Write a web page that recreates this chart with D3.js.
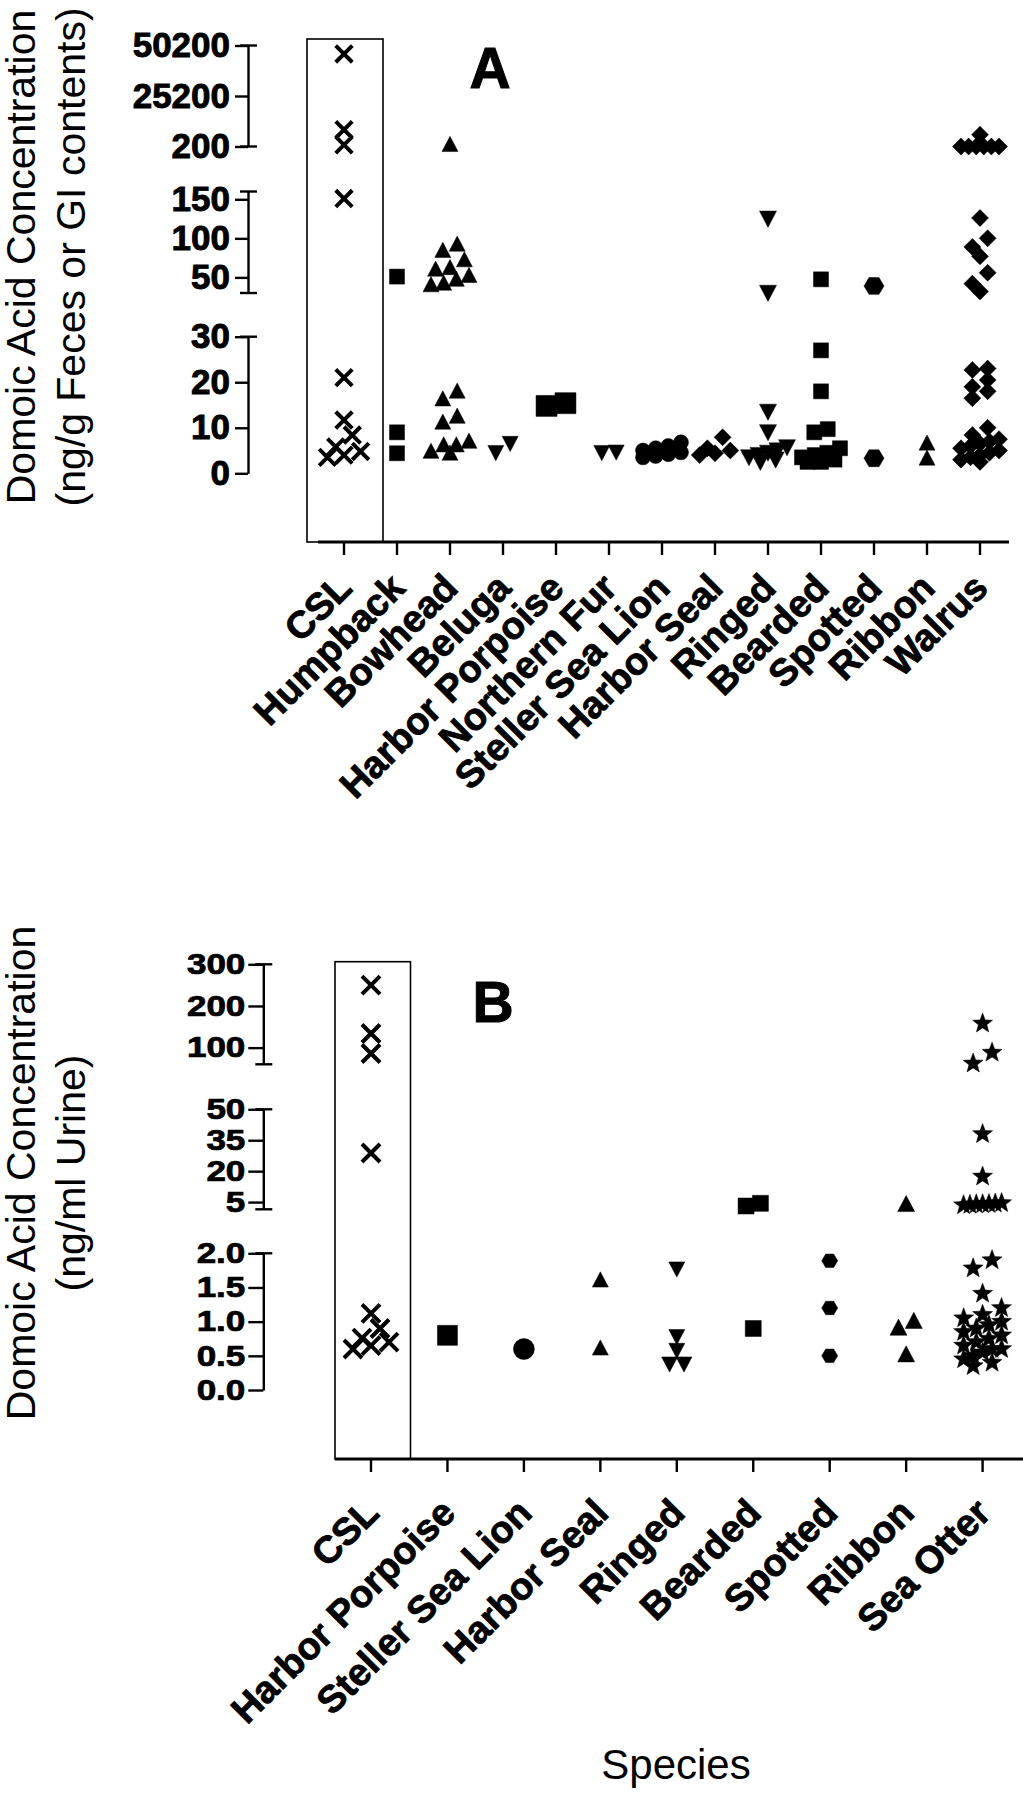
<!DOCTYPE html>
<html><head><meta charset="utf-8">
<script src="https://cdn.jsdelivr.net/npm/d3@7"></script>
<style>
body{margin:0;background:#fff;}
svg{display:block;}
text{font-family:"Liberation Sans",Arial,Helvetica,sans-serif;fill:#000;}
</style></head><body>
<svg id="chart" width="1023" height="1800"></svg>
<script>
// ---------------- DATA ----------------
const categoriesA = ["CSL","Humpback","Bowhead","Beluga","Harbor Porpoise","Northern Fur","Steller Sea Lion","Harbor Seal","Ringed","Bearded","Spotted","Ribbon","Walrus"];
const categoriesB = ["CSL","Harbor Porpoise","Steller Sea Lion","Harbor Seal","Ringed","Bearded","Spotted","Ribbon","Sea Otter"];

// Panel A: ng/g feces or GI contents
const aCSL = [46000, 8500, 1000, 151, 21, 11.7, 8.4, 5.8, 4.8, 4.0, 3.5];
const aHumpback = [51, 9, 4.4];
const aBowhead = [210, 90, 82, 70, 60, 58, 50, 45, 40, 38, 17.6, 15.9, 12.1, 10.8, 6.6, 5.8, 5.8, 4.4, 4.0];
const aBeluga = [5, 7];
const aHarborPorpoise = [14.8, 15.4];
const aNorthernFur = [5, 5.1];
const aStellerSeaLion = [6.8, 6.0, 5.5, 5.0, 4.6, 4.2, 3.8, 3.5];
const aHarborSeal = [7.9, 5.5, 5.0, 4.4, 4.0];
const aRinged = [128, 33, 14, 9.5, 6.2, 5.5, 5, 4.5, 4, 3.5, 3];
const aBearded = [47.5, 27, 18, 9.7, 9, 5.5, 4.5, 4, 3.5, 3, 2.5, 2.5];
const aSpotted = [39, 3.3];
const aRibbon = [2.9, 6.2];
const aWalrus = [6000, 200, 200, 200, 200, 200, 200, 126, 100, 89, 77, 56, 42, 32, 23, 22.7, 20.5, 19, 18, 16.5, 10, 8.4, 7.5, 7, 6.5, 6, 5.5, 5, 4.5, 4, 3.5, 3, 2.5];

// Panel B: ng/ml urine
const bCSL = [250, 134, 86, 28.8, 1.12, 0.9, 0.76, 0.7, 0.65, 0.6];
const bHarborPorpoise = [0.8];
const bStellerSeaLion = [0.6];
const bHarborSeal = [1.58, 0.585];
const bRinged = [1.8, 0.81, 0.61, 0.41, 0.41];
const bBearded = [4.4, 3.1, 0.9];
const bSpotted = [1.89, 1.2, 0.5];
const bRibbon = [3, 0.98, 0.88, 0.49];
const bSeaOtter = [158, 88, 62, 38, 17.4, 4.5, 4.3, 4.1, 4, 3.9, 3.7, 3.5, 1.9, 1.78, 1.41, 1.2, 1.1, 1.05, 1.0, 0.95, 0.9, 0.85, 0.8, 0.75, 0.7, 0.65, 0.6, 0.6, 0.55, 0.5, 0.45, 0.4, 0.35];

// Tick labels
const ticksA = [[200, 25200, 50200], [50, 100, 150], [0, 10, 20, 30]];
const ticksB = [[100, 200, 300], [5, 20, 35, 50], [0, 0.5, 1.0, 1.5, 2.0]];

const seriesA = [aCSL, aHumpback, aBowhead, aBeluga, aHarborPorpoise, aNorthernFur, aStellerSeaLion, aHarborSeal, aRinged, aBearded, aSpotted, aRibbon, aWalrus];
const seriesB = [bCSL, bHarborPorpoise, bStellerSeaLion, bHarborSeal, bRinged, bBearded, bSpotted, bRibbon, bSeaOtter];

// ---------------- STYLE ----------------
const shapesA = [["x",23],["square",15],["triUp",16],["triDown",16],["square",21],["triDown",16],["circle",15],["diamond",17],["triDown",17],["square",15],["hexagon",20],["triUp",16],["diamond",17]];
const shapesB = [["x",25],["square",20],["circle",21],["triUp",16],["triDown",16],["square",16],["hexagon",16],["triUp",17],["star",21]];

const svg = d3.select("#chart");

function shapePath(type, s) {
  const h = s / 2;
  switch (type) {
    case "square": return `M${-h},${-h}h${s}v${s}h${-s}Z`;
    case "triUp": { const H = s * 0.95; return `M0,${-2*H/3}L${h},${H/3}L${-h},${H/3}Z`; }
    case "triDown": { const H = s * 0.95; return `M0,${2*H/3}L${h},${-H/3}L${-h},${-H/3}Z`; }
    case "diamond": return `M0,${-h}L${h},0L0,${h}L${-h},0Z`;
    case "hexagon": { const v = s * 0.42; return `M${h},0L${s/4},${v}L${-s/4},${v}L${-h},0L${-s/4},${-v}L${s/4},${-v}Z`; }
    case "circle": return d3.arc()({innerRadius:0, outerRadius:h, startAngle:0, endAngle:2*Math.PI});
    case "star": {
      const R = h, r = h * 0.42; let d = "";
      for (let i = 0; i < 10; i++) {
        const rad = i % 2 ? r : R; const a = -Math.PI/2 + i * Math.PI/5;
        d += (i ? "L" : "M") + (rad*Math.cos(a)).toFixed(2) + "," + (rad*Math.sin(a)).toFixed(2);
      }
      return d + "Z";
    }
    case "x": { const a = h * 0.72; return `M${-a},${-a}L${a},${a}M${-a},${a}L${a},${-a}`; }
  }
}

// broken axis: pick the lowest segment whose upper bound holds the value
function makeY(segs) {
  return v => {
    for (let i = segs.length - 1; i >= 0; i--) { if (v <= segs[i].domain()[1]) return segs[i](v); }
    return segs[0](v);
  };
}

// row-based scatter layout (points that would overlap share a row, spread symmetrically)
function swarm(values, yFn, size, limit) {
  const pts = values.map(v => ({v, y: yFn(v)})).sort((a,b) => a.y - b.y);
  const rows = []; let cur = null;
  pts.forEach(p => {
    if (!cur || p.y - cur[0].y > size * 0.65) { cur = [p]; rows.push(cur); } else cur.push(p);
  });
  rows.forEach(r => {
    const n = r.length;
    const sp = n > 1 ? Math.min(size * 0.9, 2 * limit / (n - 1)) : 0;
    r.slice().sort((a, b) => b.y - a.y).forEach((p, i) => p.dx = (i - (n - 1) / 2) * sp);
  });
  return pts;
}

function boldText(sel, w) {
  sel.attr("stroke", "#000").attr("stroke-width", w).attr("paint-order", "stroke");
}

function drawPanel(cfg) {
  const g = svg.append("g");
  const segs = cfg.segs.map(s => d3.scaleLinear().domain(s.d).range(s.r));
  const y = makeY(segs);
  const x = d3.scalePoint().domain(cfg.categories).range(cfg.xRange);

  // CSL box
  g.append("rect").attr("x", cfg.box[0]).attr("y", cfg.box[1])
    .attr("width", cfg.box[2] - cfg.box[0]).attr("height", cfg.axisY - cfg.box[1])
    .attr("fill", "none").attr("stroke", "#000").attr("stroke-width", 1.6);

  // Y axis segments
  segs.forEach((s, i) => {
    const ax = d3.axisLeft(s).tickValues(cfg.ticks[i]).tickSize(cfg.tickLen).tickSizeOuter(0)
      .tickPadding(cfg.tickPad).tickFormat(cfg.fmt);
    const ga = g.append("g").attr("transform", `translate(${cfg.yAxisX},0)`).call(ax);
    ga.select(".domain").attr("stroke-width", 2.4);
    ga.selectAll(".tick line").attr("stroke-width", 2.4);
    const tt = ga.selectAll(".tick text").style("font-size", cfg.tickFont + "px").style("font-weight", "bold")
      .attr("fill", "#000").attr("transform", `scale(1,${cfg.tickSquash})`);
    boldText(tt, 0.9);
    const r = s.range();
    const caps = i === segs.length - 1 ? [r[1]] : [r[0], r[1]];
    caps.forEach(cy => g.append("line").attr("x1", cfg.yAxisX - 8).attr("x2", cfg.yAxisX + 9)
      .attr("y1", cy).attr("y2", cy).attr("stroke", "#000").attr("stroke-width", 2.4));
  });

  // X axis
  g.append("line").attr("x1", cfg.xAxis[0]).attr("x2", cfg.xAxis[1]).attr("y1", cfg.axisY).attr("y2", cfg.axisY)
    .attr("stroke", "#000").attr("stroke-width", 3);
  const gx = g.append("g");
  cfg.categories.forEach(c => {
    gx.append("line").attr("x1", x(c)).attr("x2", x(c)).attr("y1", cfg.axisY).attr("y2", cfg.axisY + 13)
      .attr("stroke", "#000").attr("stroke-width", 2.4);
    const t = gx.append("text").attr("transform", `translate(${x(c) + cfg.lblDx},${cfg.axisY + cfg.lblDy}) rotate(-45)`)
      .attr("text-anchor", "end").style("font-size", cfg.lblFont + "px").style("font-weight", "bold")
      .text(c);
    boldText(t, 0.8);
  });

  // Points
  cfg.series.forEach((vals, i) => {
    const [type, size] = cfg.shapes[i];
    const cx = x(cfg.categories[i]);
    const pts = swarm(vals, y, type === "x" ? size * 0.8 : size, 19);
    const d = shapePath(type, size);
    g.append("g").selectAll("path").data(pts).join("path")
      .attr("transform", p => `translate(${cx + p.dx},${p.y})`)
      .attr("d", d)
      .attr("fill", type === "x" ? "none" : "#000")
      .attr("stroke", "#000")
      .attr("stroke-width", type === "x" ? 4 : 0.5);
  });

  // Title
  const t = g.append("text").attr("transform", `translate(0,${cfg.titleY}) rotate(-90)`)
    .attr("text-anchor", "middle").style("font-size", "41px");
  t.append("tspan").attr("x", 0).attr("y", 35).text("Domoic Acid Concentration");
  t.append("tspan").attr("x", 0).attr("y", 85).text(cfg.unit);

  const L = g.append("text").attr("x", cfg.letter[0]).attr("y", cfg.letter[1]).attr("text-anchor", "middle")
    .style("font-size", "57px").style("font-weight", "bold").text(cfg.letter[2]);
  boldText(L, 1);
}

drawPanel({
  categories: categoriesA, series: seriesA, shapes: shapesA, ticks: ticksA,
  segs: [{d:[200, 50200], r:[146.5, 45.5]}, {d:[30, 160], r:[293, 191.5]}, {d:[0, 30], r:[473.3, 336.7]}],
  fmt: d3.format("d"), yAxisX: 248, tickLen: 13, tickPad: 5, tickFont: 35, tickSquash: 1,
  xRange: [344, 980], axisY: 542, xAxis: [318, 1009], box: [307, 39, 383],
  lblDx: 10, lblDy: 48, lblFont: 38, titleY: 257, unit: "(ng/g Feces or GI contents)",
  letter: [490, 88, "A"]
});

drawPanel({
  categories: categoriesB, series: seriesB, shapes: shapesB, ticks: ticksB,
  segs: [{d:[60, 300], r:[1064.3, 964.3]}, {d:[1.5, 50], r:[1209.3, 1109.3]}, {d:[0, 2], r:[1390, 1253.3]}],
  fmt: v => v < 3 ? d3.format(".1f")(v) : d3.format("d")(v),
  yAxisX: 263.3, tickLen: 15, tickPad: 3, tickFont: 35, tickSquash: 0.82,
  xRange: [371, 982.6], axisY: 1459, xAxis: [335, 1023], box: [335, 961.7, 410.5],
  lblDx: 10, lblDy: 56, lblFont: 38, titleY: 1173, unit: "(ng/ml Urine)",
  letter: [493, 1022, "B"]
});

svg.append("text").attr("x", 676).attr("y", 1779).attr("text-anchor", "middle")
  .style("font-size", "42px").text("Species");
</script>
</body></html>
